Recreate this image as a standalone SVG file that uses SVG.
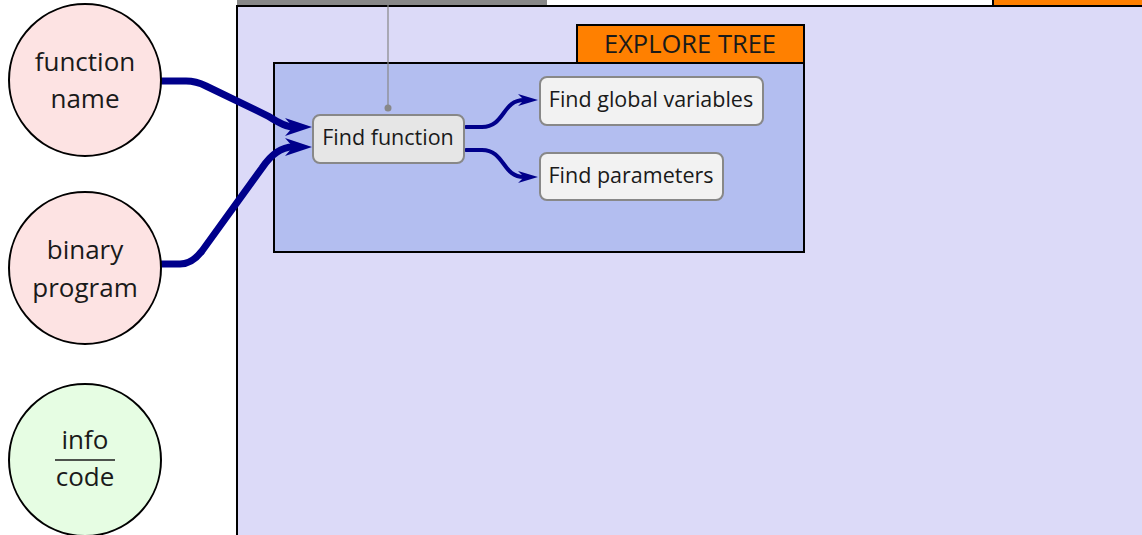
<svg xmlns="http://www.w3.org/2000/svg" width="1142" height="535" viewBox="0 0 1142 535">
<style>
text{font-family:"Open Sans","Noto Sans",sans-serif;fill:#1a1a1a}
.circ{stroke:#000;stroke-width:2}
.node{fill:#f2f2f2;stroke:#888;stroke-width:2}
.conn{fill:none;stroke:#00008b;stroke-linecap:round}
.ct{font-size:26px;text-anchor:middle}
.nt{font-size:21.5px;text-anchor:middle}
</style>
<defs>
<marker id="ah" markerUnits="userSpaceOnUse" viewBox="0 0 27 18" refX="8" refY="9" markerWidth="27" markerHeight="18" orient="auto">
<path d="M0,0 L27,9 L0,18 L8,9 Z" fill="#00008b"/>
</marker>
<marker id="ahs" markerUnits="userSpaceOnUse" viewBox="0 0 20 12" refX="6" refY="6" markerWidth="20" markerHeight="12" orient="auto">
<path d="M0,0 L20,6 L0,12 L6,6 Z" fill="#00008b"/>
</marker>
</defs>
<rect width="1142" height="535" fill="#fff"/>
<g id="frame">
<rect x="237" y="6" width="920" height="540" fill="#dcdaf8" stroke="#000" stroke-width="2"/>
<rect x="237" y="0" width="310" height="5" fill="#888"/>
<rect x="993" y="-2" width="160" height="8" fill="#ff8000" stroke="#000" stroke-width="2"/>
</g>
<g id="explore">
<rect x="274" y="63" width="530" height="189" fill="#b3bef0" stroke="#000" stroke-width="2"/>
<rect x="577" y="25" width="227" height="38" fill="#ff8000" stroke="#000" stroke-width="2"/>
<text x="690" y="53" font-size="25.5" text-anchor="middle">EXPLORE TREE</text>
</g>
<g id="link">
<line x1="388" y1="0" x2="388" y2="108" stroke="#888" stroke-width="1.2"/>
<circle cx="388" cy="108" r="3.5" fill="#888"/>
</g>
<g id="connectors">
<path class="conn" d="M162,81 L186,81 Q196,81 206,86 L268,116 Q285,127 293,127" stroke-width="7" marker-end="url(#ah)"/>
<path class="conn" d="M162,264 L180,264 Q192,264 202,251 L262,168 Q276,147 293,147" stroke-width="7" marker-end="url(#ah)"/>
<path class="conn" d="M466,127 L482,127 C505,127 502,100 524,100" stroke-width="4" marker-end="url(#ahs)"/>
<path class="conn" d="M466,150 L482,150 C505,150 502,177 524,177" stroke-width="4" marker-end="url(#ahs)"/>
</g>
<g id="n-function-name">
<circle class="circ" cx="85" cy="80" r="76" fill="#fde3e3"/>
<text class="ct" x="85" y="71">function</text>
<text class="ct" x="85" y="108">name</text>
</g>
<g id="n-binary-program">
<circle class="circ" cx="85" cy="268" r="76" fill="#fde3e3"/>
<text class="ct" x="85" y="259">binary</text>
<text class="ct" x="85" y="297">program</text>
</g>
<g id="n-info-code">
<circle class="circ" cx="85" cy="460" r="76" fill="#e6fde3"/>
<text class="ct" x="85" y="449">info</text>
<line x1="55" y1="460" x2="115" y2="460" stroke="#1a1a1a" stroke-width="1.5"/>
<text class="ct" x="85" y="486">code</text>
</g>
<g id="n-find-function">
<rect x="313" y="115" width="151" height="48" rx="7" fill="#e6e6e6" stroke="#888" stroke-width="2"/>
<text class="nt" x="388" y="145">Find function</text>
</g>
<g id="n-find-globals">
<rect class="node" x="540" y="77" width="223" height="48" rx="7"/>
<text class="nt" x="651" y="107">Find global variables</text>
</g>
<g id="n-find-params">
<rect class="node" x="540" y="153" width="183" height="47" rx="7"/>
<text class="nt" x="631" y="183">Find parameters</text>
</g>
</svg>
